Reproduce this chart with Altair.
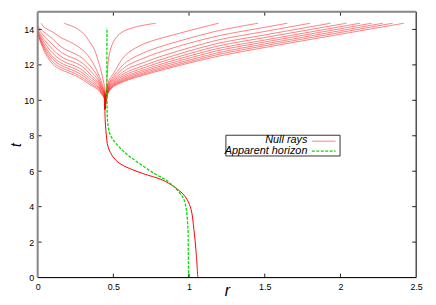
import altair as alt
import pandas as pd

# shared trunk of all null rays (r, t)
TRUNK_R = [1.058, 1.046, 1.032, 1.014, 0.988, 0.955, 0.90, 0.825, 0.695, 0.608, 0.543, 0.499, 0.466, 0.451, 0.446, 0.444]
TRUNK_T = [0.0, 1.5, 2.72, 3.83, 4.39, 4.76, 5.13, 5.5, 5.87, 6.15, 6.43, 6.8, 7.35, 8.28, 8.9, 9.5]

# outgoing (right) rays after leaving the trunk
RIGHT_R = [
    [0.452, 0.456, 0.462, 0.47, 0.49, 0.51, 0.54, 0.575, 0.62, 0.66, 0.72, 0.78],
    [0.452, 0.46, 0.475, 0.5, 0.53, 0.56, 0.6, 0.7, 0.8, 0.9, 1.0, 1.1, 1.195],
    [0.452, 0.46, 0.475, 0.5, 0.55, 0.6, 0.7, 0.8, 1.0, 1.2, 1.456],
    [0.452, 0.46, 0.475, 0.5, 0.55, 0.6, 0.7, 0.8, 1.0, 1.2, 1.5, 1.65],
    [0.452, 0.46, 0.475, 0.5, 0.55, 0.6, 0.7, 0.8, 1.0, 1.2, 1.5, 1.80],
    [0.452, 0.46, 0.475, 0.5, 0.55, 0.6, 0.7, 0.8, 1.0, 1.2, 1.5, 1.934],
    [0.452, 0.46, 0.475, 0.5, 0.55, 0.6, 0.7, 0.8, 1.0, 1.2, 1.5, 2.0, 2.04],
    [0.452, 0.46, 0.475, 0.5, 0.55, 0.6, 0.7, 0.8, 1.0, 1.2, 1.5, 2.0, 2.13],
    [0.452, 0.46, 0.475, 0.5, 0.55, 0.6, 0.7, 0.8, 1.0, 1.2, 1.5, 2.0, 2.206],
    [0.452, 0.46, 0.475, 0.5, 0.55, 0.6, 0.7, 0.8, 1.0, 1.2, 1.5, 2.0, 2.28],
    [0.452, 0.46, 0.475, 0.5, 0.55, 0.6, 0.7, 0.8, 1.0, 1.2, 1.5, 2.0, 2.345],
    [0.452, 0.46, 0.475, 0.5, 0.55, 0.6, 0.7, 0.8, 1.0, 1.2, 1.5, 2.0, 2.42],
]
RIGHT_T = [
    [10.5, 11.0, 11.7, 12.45, 13.1, 13.45, 13.73, 13.93, 14.07, 14.17, 14.27, 14.35],
    [10.4, 10.85, 11.2, 11.5, 11.95, 12.35, 12.7, 13.18, 13.47, 13.7, 13.93, 14.15, 14.35],
    [10.3, 10.75, 11.05, 11.35, 11.87, 12.25, 12.68, 13.0, 13.5, 13.94, 14.35],
    [10.25, 10.68, 10.98, 11.25, 11.68, 12.0, 12.38, 12.7, 13.22, 13.65, 14.12, 14.35],
    [10.2, 10.6, 10.9, 11.16, 11.52, 11.8, 12.13, 12.44, 12.96, 13.42, 13.885, 14.35],
    [10.15, 10.55, 10.84, 11.08, 11.4, 11.64, 11.96, 12.26, 12.78, 13.23, 13.69, 14.35],
    [10.1, 10.5, 10.78, 11.01, 11.3, 11.52, 11.83, 12.12, 12.63, 13.08, 13.54, 14.29, 14.35],
    [10.05, 10.45, 10.72, 10.95, 11.22, 11.42, 11.72, 12.0, 12.5, 12.94, 13.40, 14.155, 14.35],
    [10.0, 10.4, 10.67, 10.9, 11.15, 11.34, 11.63, 11.9, 12.38, 12.82, 13.29, 14.04, 14.35],
    [9.95, 10.36, 10.63, 10.85, 11.09, 11.27, 11.55, 11.81, 12.27, 12.7, 13.18, 13.93, 14.35],
    [9.9, 10.32, 10.59, 10.81, 11.04, 11.21, 11.48, 11.73, 12.18, 12.6, 13.08, 13.83, 14.35],
    [9.85, 10.28, 10.55, 10.77, 10.99, 11.16, 11.42, 11.66, 12.1, 12.5, 12.98, 13.73, 14.35],
]

# ingoing (left) rays after leaving the trunk
LG = [0.442, 0.42, 0.4, 0.35, 0.3, 0.25, 0.2, 0.15, 0.1, 0.05, 0.02, 0.0]
LEFT_R = [
    [0.444, 0.43, 0.41, 0.39, 0.375, 0.34, 0.31, 0.25, 0.2, 0.175],
    [0.443, 0.425, 0.41, 0.39, 0.364, 0.33, 0.3, 0.245, 0.2, 0.158, 0.1, 0.07, 0.04, 0.023],
    LG, LG, LG, LG, LG, LG, LG, LG,
]
LEFT_T = [
    [10.6, 11.25, 11.94, 12.5, 12.87, 13.35, 13.7, 14.1, 14.27, 14.35],
    [10.45, 10.95, 11.3, 11.7, 12.13, 12.55, 12.82, 13.15, 13.35, 13.52, 13.85, 13.98, 14.15, 14.35],
    [10.4, 10.9, 11.3, 11.9, 12.35, 12.62, 12.8, 13.05, 13.46, 13.8, 14.0, 14.2],
    [10.35, 10.8, 11.15, 11.65, 12.07, 12.33, 12.5, 12.75, 13.13, 13.55, 13.85, 14.1],
    [10.3, 10.7, 11.03, 11.45, 11.87, 12.12, 12.27, 12.5, 12.87, 13.35, 13.7, 14.0],
    [10.25, 10.62, 10.93, 11.3, 11.68, 11.93, 12.08, 12.3, 12.65, 13.18, 13.6, 13.95],
    [10.2, 10.55, 10.83, 11.17, 11.52, 11.77, 11.93, 12.13, 12.46, 13.02, 13.5, 13.88],
    [10.15, 10.48, 10.75, 11.05, 11.39, 11.63, 11.8, 11.99, 12.32, 12.9, 13.42, 13.82],
    [10.1, 10.42, 10.67, 10.95, 11.26, 11.5, 11.68, 11.86, 12.17, 12.78, 13.34, 13.76],
    [10.05, 10.36, 10.6, 10.86, 11.15, 11.39, 11.57, 11.74, 12.04, 12.66, 13.26, 13.7],
]

# apparent horizon
AH_R = [0.997, 0.995, 0.993, 0.982, 0.967, 0.94, 0.90, 0.847, 0.771, 0.673, 0.586, 0.52, 0.477, 0.462, 0.458, 0.458]
AH_T = [0.0, 1.5, 2.72, 3.83, 4.39, 4.76, 5.13, 5.5, 5.87, 6.43, 6.98, 7.54, 8.1, 8.83, 10.0, 14.1]

X_LABELS = [0, 0.5, 1, 1.5, 2, 2.5]
Y_LABELS = [0, 2, 4, 6, 8, 10, 12, 14]
X_TICKS = [0.5, 1, 1.5, 2]
Y_TICKS = [2, 4, 6, 8, 10, 12, 14]
LEGEND_LABELS = ["Null rays", "Apparent horizon"]

W, H = 383, 269
FONT = "Liberation Sans"
RED = "#ff0000"
GREEN = "#00dd00"

rows = []
for i, (rr, tt) in enumerate(zip(RIGHT_R + LEFT_R, RIGHT_T + LEFT_T)):
    rs = [TRUNK_R[-1]] + rr
    ts = [TRUNK_T[-1]] + tt
    for j, (a, b) in enumerate(zip(rs, ts)):
        rows.append({"ray": i, "o": j, "r": a, "t": b})
rays = pd.DataFrame(rows)
trunk = pd.DataFrame({"r": TRUNK_R, "t": TRUNK_T, "o": list(range(len(TRUNK_R)))})
ah = pd.DataFrame({"r": AH_R, "t": AH_T, "o": list(range(len(AH_R)))})

xs = alt.Scale(domain=[0, 2.5], nice=False, zero=False)
ys = alt.Scale(domain=[0, 15], nice=False, zero=False)

x_axis = alt.Axis(values=X_LABELS, format="~g", ticks=False, domain=False, grid=False,
                  labelFont=FONT, labelFontSize=9, labelPadding=5, labelColor="#000",
                  labelOverlap=False, labelFlush=False,
                  title="r", titleFont=FONT, titleFontSize=16, titleFontStyle="italic",
                  titleFontWeight="normal", titleColor="#000",
                  titleY=18, titleBaseline="alphabetic")
y_axis = alt.Axis(values=Y_LABELS, format="~g", ticks=False, domain=False, grid=False,
                  labelFont=FONT, labelFontSize=9, labelPadding=4, labelColor="#000",
                  labelOverlap=False, labelFlush=False,
                  title="t", titleFont=FONT, titleFontSize=14, titleFontStyle="italic",
                  titleFontWeight="normal", titleColor="#000",
                  titleX=-17, titleBaseline="alphabetic")

def X(f):
    return alt.X(f, scale=xs, axis=x_axis, title="r")

def Y(f):
    return alt.Y(f, scale=ys, axis=y_axis, title="t")

ray_lines = alt.Chart(rays).mark_line(
    color=RED, strokeWidth=1, opacity=0.5, interpolate="catmull-rom"
).encode(x=X("r:Q"), y=Y("t:Q"), detail="ray:N", order="o:Q")

trunk_line = alt.Chart(trunk).mark_line(
    color=RED, strokeWidth=1, interpolate="catmull-rom"
).encode(x=X("r:Q"), y=Y("t:Q"), order="o:Q")

ah_line = alt.Chart(ah).mark_line(
    color=GREEN, strokeWidth=1.3, strokeDash=[3, 1.5], interpolate="catmull-rom"
).encode(x=X("r:Q"), y=Y("t:Q"), order="o:Q")

xt = pd.DataFrame({"v": X_TICKS})
yt = pd.DataFrame({"v": Y_TICKS})
tick_col = "#222"
bt = alt.Chart(xt).mark_rule(color=tick_col, strokeWidth=1).encode(
    x=X("v:Q"), y=alt.value(H), y2=alt.value(H - 4))
tt_ = alt.Chart(xt).mark_rule(color=tick_col, strokeWidth=1).encode(
    x=X("v:Q"), y=alt.value(0), y2=alt.value(4))
lt = alt.Chart(yt).mark_rule(color=tick_col, strokeWidth=1).encode(
    y=Y("v:Q"), x=alt.value(0), x2=alt.value(4))
rt = alt.Chart(yt).mark_rule(color=tick_col, strokeWidth=1).encode(
    y=Y("v:Q"), x=alt.value(W), x2=alt.value(W - 4))

frame = pd.DataFrame({"k": [0]})
border_b = alt.Chart(frame).mark_rule(color="#000", strokeWidth=1).encode(
    x=alt.value(0), x2=alt.value(W), y=alt.value(H))
border_r = alt.Chart(frame).mark_rule(color="#000", strokeWidth=1).encode(
    x=alt.value(W), y=alt.value(0), y2=alt.value(H))
border_l = alt.Chart(frame).mark_rule(color="#888", strokeWidth=2).encode(
    x=alt.value(0), y=alt.value(0), y2=alt.value(H))
border_t = alt.Chart(frame).mark_rule(color="#888", strokeWidth=2).encode(
    x=alt.value(0), x2=alt.value(W), y=alt.value(0))

# legend
leg_box = alt.Chart(frame).mark_rect(fill="white", stroke="#333", strokeWidth=1).encode(
    x=alt.value(190.5), x2=alt.value(306), y=alt.value(125), y2=alt.value(146))
leg_df = pd.DataFrame({"label": LEGEND_LABELS})
leg_text1 = alt.Chart(leg_df.iloc[[0]]).mark_text(
    align="right", baseline="middle", font=FONT, fontSize=11, fontStyle="italic", color="#000"
).encode(text="label:N", x=alt.value(273), y=alt.value(130))
leg_text2 = alt.Chart(leg_df.iloc[[1]]).mark_text(
    align="right", baseline="middle", font=FONT, fontSize=11, fontStyle="italic", color="#000"
).encode(text="label:N", x=alt.value(273), y=alt.value(141))
leg_red = alt.Chart(frame).mark_rule(color=RED, strokeWidth=1, opacity=0.5).encode(
    x=alt.value(277.5), x2=alt.value(301.5), y=alt.value(131))
leg_green = alt.Chart(frame).mark_rule(color=GREEN, strokeWidth=1.3, strokeDash=[3, 1.5]).encode(
    x=alt.value(277.5), x2=alt.value(301.5), y=alt.value(141))

chart = alt.layer(
    ray_lines, trunk_line, ah_line, bt, tt_, lt, rt,
    border_b, border_r, border_l, border_t,
    leg_box, leg_text1, leg_text2, leg_red, leg_green,
).properties(
    width=W, height=H,
    autosize=alt.AutoSizeParams(type="none"),
    padding={"left": 30, "top": 2, "right": 12, "bottom": 24},
).configure_view(stroke=None).configure(background="white")

chart.save("out.html", embed_options={"renderer": "svg", "actions": False})
